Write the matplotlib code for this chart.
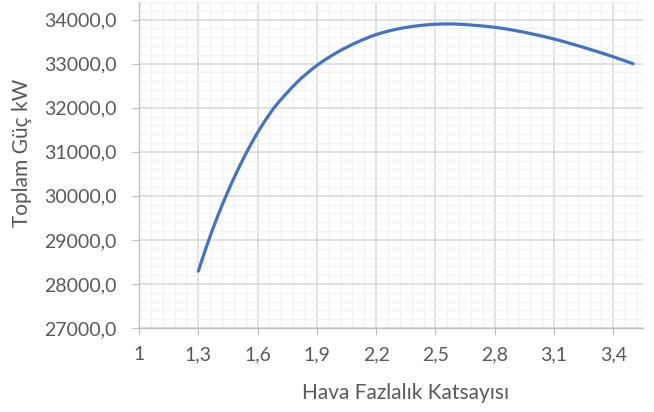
import matplotlib.pyplot as plt
from matplotlib.path import Path
from matplotlib.patches import PathPatch
from matplotlib.ticker import MultipleLocator, FuncFormatter

# values
hava = [1.3, 1.35, 1.4, 1.45, 1.5, 1.55, 1.6, 1.65, 1.7, 1.8, 1.9, 2.0, 2.1,
        2.2, 2.3, 2.4, 2.5, 2.6, 2.7, 2.8, 2.9, 3.0, 3.1, 3.2, 3.3, 3.4, 3.5]
guc = [28290, 28960, 29560, 30100, 30590, 31035, 31435, 31785, 32090, 32580,
       32960, 33250, 33480, 33660, 33780, 33855, 33895, 33900, 33870, 33825,
       33755, 33665, 33560, 33435, 33300, 33155, 33000]

plt.rcParams['font.family'] = ['Lato', 'DejaVu Sans']
grey = '#595959'

fig = plt.figure(figsize=(6.54, 4.12), dpi=100)
ax = fig.add_axes([139/654, 1-328/412, (643-139)/654, 326/412])

# smoothed line (Catmull-Rom as cubic bezier, like Excel's smooth line)
verts = [(hava[0], guc[0])]
codes = [Path.MOVETO]
n = len(hava)
for i in range(n - 1):
    x0, y0 = hava[max(i - 1, 0)], guc[max(i - 1, 0)]
    x1, y1 = hava[i], guc[i]
    x2, y2 = hava[i + 1], guc[i + 1]
    x3, y3 = hava[min(i + 2, n - 1)], guc[min(i + 2, n - 1)]
    verts += [(x1 + (x2 - x0) / 6, y1 + (y2 - y0) / 6),
              (x2 - (x3 - x1) / 6, y2 - (y3 - y1) / 6),
              (x2, y2)]
    codes += [Path.CURVE4] * 3
ax.add_patch(PathPatch(Path(verts, codes), fill=False, edgecolor='#4472C4',
                       lw=2.3, capstyle='round', zorder=3))

ax.set_xlim(1, 3.55)
ax.set_ylim(27000, 34400)
ax.xaxis.set_major_locator(MultipleLocator(0.3, offset=1.0))
ax.xaxis.set_minor_locator(MultipleLocator(0.06, offset=1.0))
ax.yaxis.set_major_locator(MultipleLocator(1000))
ax.yaxis.set_minor_locator(MultipleLocator(200))

ax.xaxis.set_major_formatter(FuncFormatter(lambda v, p: ('%g' % round(v, 1)).replace('.', ',')))
ax.yaxis.set_major_formatter(FuncFormatter(lambda v, p: ('%.1f' % v).replace('.', ',')))

ax.grid(which='major', color='#d9d9d9', lw=1.1)
ax.grid(which='minor', color='#f2f2f2', lw=1.0)
ax.set_axisbelow(True)

for s in ['top', 'right']:
    ax.spines[s].set_visible(False)
for s in ['left', 'bottom']:
    ax.spines[s].set_color('#bfbfbf')
    ax.spines[s].set_linewidth(1.0)

ax.tick_params(which='major', length=5, color='#bfbfbf', labelcolor=grey, labelsize=14)
ax.tick_params(which='minor', length=0)
ax.tick_params(axis='x', pad=8)
ax.tick_params(axis='y', pad=11)

fig.text(406/654, 1-393/412, 'Hava Fazlalık Katsayısı', color=grey, fontsize=15,
         ha='center', va='center')
fig.text(22/654, 1-153/412, 'Toplam Güç kW', color=grey, fontsize=15,
         ha='center', va='center', rotation=90)

fig.savefig('out.png', dpi=100)
